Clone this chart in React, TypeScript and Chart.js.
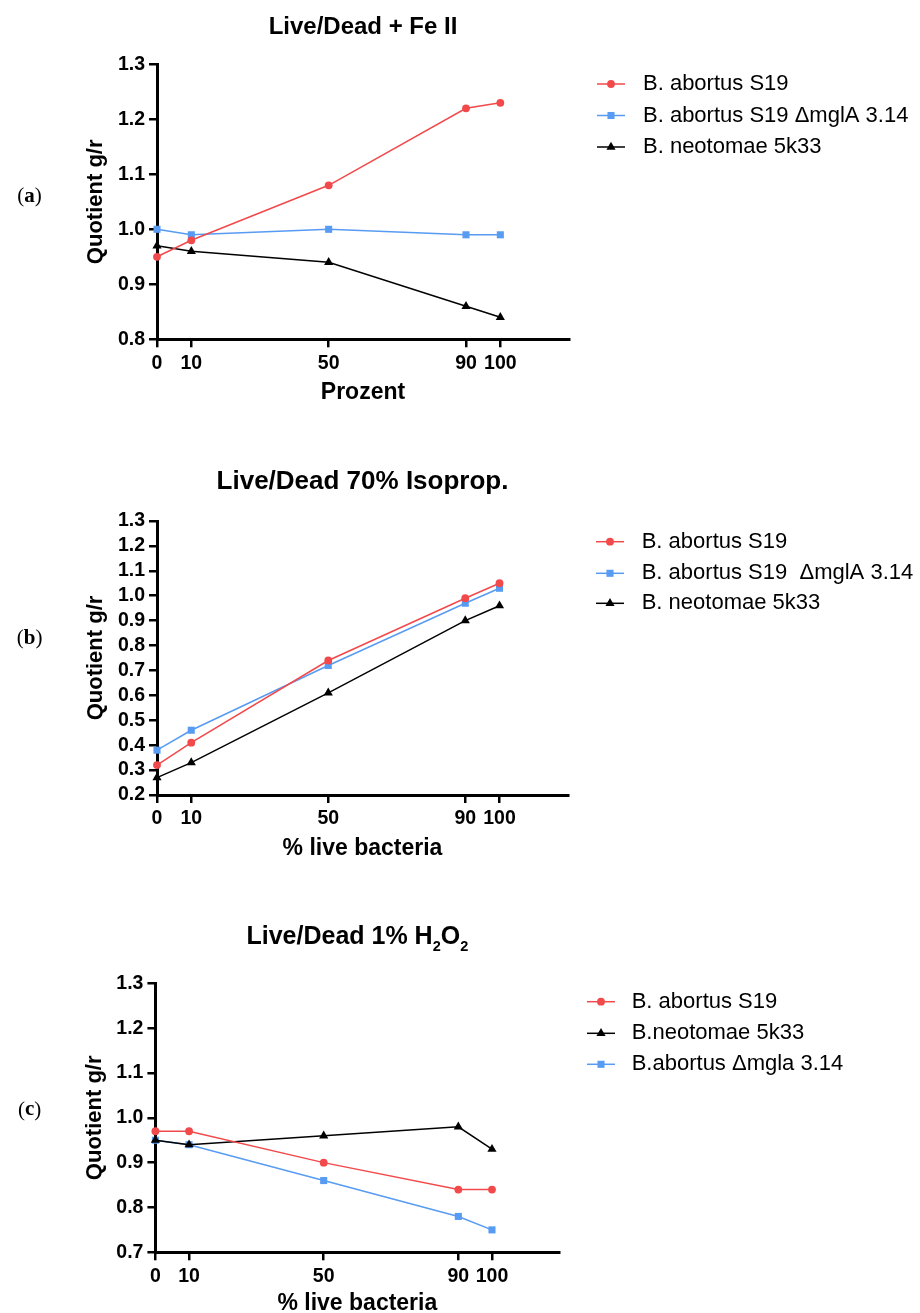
import React, { useEffect, useRef } from 'react';
import { Chart, registerables } from 'chart.js';

Chart.register(...registerables);

// ---------------- data ----------------
const X_PERCENT = [0, 10, 50, 90, 100];
const X_TICKS = [0, 10, 50, 90, 100];

const FE_S19 = [0.95, 0.98, 1.08, 1.22, 1.23];
const FE_MGLA = [1.0, 0.99, 1.0, 0.99, 0.99];
const FE_NEO = [0.97, 0.96, 0.94, 0.86, 0.84];

const ISO_S19 = [0.32, 0.41, 0.74, 0.99, 1.05];
const ISO_MGLA = [0.38, 0.46, 0.72, 0.97, 1.03];
const ISO_NEO = [0.27, 0.33, 0.61, 0.9, 0.96];

const H2O2_S19 = [0.97, 0.97, 0.9, 0.84, 0.84];
const H2O2_NEO = [0.95, 0.94, 0.96, 0.98, 0.93];
const H2O2_MGLA = [0.95, 0.94, 0.86, 0.78, 0.75];

const Y_TICKS_A = [0.8, 0.9, 1.0, 1.1, 1.2, 1.3];
const Y_TICKS_B = [0.2, 0.3, 0.4, 0.5, 0.6, 0.7, 0.8, 0.9, 1.0, 1.1, 1.2, 1.3];
const Y_TICKS_C = [0.7, 0.8, 0.9, 1.0, 1.1, 1.2, 1.3];

const LABELS_A = ['B. abortus S19', 'B. abortus S19 \u0394mglA 3.14', 'B. neotomae 5k33'];
const LABELS_B = ['B. abortus S19', 'B. abortus S19  \u0394mglA 3.14', 'B. neotomae 5k33'];
const LABELS_C = ['B. abortus S19', 'B.neotomae 5k33', 'B.abortus \u0394mgla 3.14'];

// ---------------- styles ----------------
const PAGE_W = 920;
const PAGE_H = 1313;
const SANS = "Arial, 'Liberation Sans', Helvetica, sans-serif";
const SERIF = "'Liberation Serif', 'Times New Roman', serif";
const RED = '#F2494B';
const BLUE = '#579BF2';
const BLACK = '#000000';
const TICK_FONT = 19.5;
const XTITLE_FONT = 23;
const YTITLE_FONT = 22;
const LEGEND_FONT = 22;
const TICK_LEN = 8;

type MarkStyle = 'circle' | 'rect' | 'triangle';
const RADIUS: Record<MarkStyle, number> = { circle: 3.9, rect: 5, triangle: 5.3 };

interface Series {
  label: string;
  values: number[];
  color: string;
  style: MarkStyle;
}

interface TitlePart {
  text: string;
  sub?: boolean;
}

interface Panel {
  letter: string;
  title: TitlePart[];
  titleSize: number;
  titleBaseline: number;
  series: Series[];
  yTicks: number[];
  xTitle: string;
  box: { left: number; right: number; top: number; bottom: number };
  xLabelCenter: number;
  xTitleCenter: number;
  yTitleX: number;
  letterY: number;
  legendRows: number[];
  legendLine: [number, number];
  legendText: number;
}

const PANELS: Panel[] = [
  {
    letter: 'a',
    title: [{ text: 'Live/Dead + Fe II' }],
    titleSize: 24,
    titleBaseline: 34.3,
    series: [
      { label: LABELS_A[0], values: FE_S19, color: RED, style: 'circle' },
      { label: LABELS_A[1], values: FE_MGLA, color: BLUE, style: 'rect' },
      { label: LABELS_A[2], values: FE_NEO, color: BLACK, style: 'triangle' },
    ],
    yTicks: Y_TICKS_A,
    xTitle: 'Prozent',
    box: { left: 157, right: 569, top: 64.3, bottom: 339.3 },
    xLabelCenter: 363.5,
    xTitleCenter: 393,
    yTitleX: 96,
    letterY: 196.7,
    legendRows: [84, 115.5, 147],
    legendLine: [597, 625],
    legendText: 643,
  },
  {
    letter: 'b',
    title: [{ text: 'Live/Dead 70% Isoprop.' }],
    titleSize: 26,
    titleBaseline: 489.3,
    series: [
      { label: LABELS_B[0], values: ISO_S19, color: RED, style: 'circle' },
      { label: LABELS_B[1], values: ISO_MGLA, color: BLUE, style: 'rect' },
      { label: LABELS_B[2], values: ISO_NEO, color: BLACK, style: 'triangle' },
    ],
    yTicks: Y_TICKS_B,
    xTitle: '% live bacteria',
    box: { left: 157, right: 568, top: 521, bottom: 795 },
    xLabelCenter: 819,
    xTitleCenter: 848.5,
    yTitleX: 96,
    letterY: 638.3,
    legendRows: [541.7, 573.3, 603.3],
    legendLine: [596, 624],
    legendText: 641.7,
  },
  {
    letter: 'c',
    title: [{ text: 'Live/Dead 1% H' }, { text: '2', sub: true }, { text: 'O' }, { text: '2', sub: true }],
    titleSize: 25,
    titleBaseline: 944.3,
    series: [
      { label: LABELS_C[0], values: H2O2_S19, color: RED, style: 'circle' },
      { label: LABELS_C[1], values: H2O2_NEO, color: BLACK, style: 'triangle' },
      { label: LABELS_C[2], values: H2O2_MGLA, color: BLUE, style: 'rect' },
    ],
    yTicks: Y_TICKS_C,
    xTitle: '% live bacteria',
    box: { left: 155.4, right: 559.3, top: 983.3, bottom: 1252.3 },
    xLabelCenter: 1277,
    xTitleCenter: 1303.3,
    yTitleX: 95,
    letterY: 1110,
    legendRows: [1001.7, 1033.3, 1064.3],
    legendLine: [587, 615],
    legendText: 631.7,
  },
];

function drawMarker(ctx: CanvasRenderingContext2D, style: MarkStyle, x: number, y: number, color: string) {
  const r = RADIUS[style];
  ctx.fillStyle = color;
  ctx.beginPath();
  if (style === 'circle') {
    ctx.arc(x, y, r, 0, Math.PI * 2);
  } else if (style === 'rect') {
    const s = r * Math.SQRT1_2;
    ctx.rect(x - s, y - s, 2 * s, 2 * s);
  } else {
    let rad = 0;
    ctx.moveTo(x + Math.sin(rad) * r, y - Math.cos(rad) * r);
    rad += (2 * Math.PI) / 3;
    ctx.lineTo(x + Math.sin(rad) * r, y - Math.cos(rad) * r);
    rad += (2 * Math.PI) / 3;
    ctx.lineTo(x + Math.sin(rad) * r, y - Math.cos(rad) * r);
    ctx.closePath();
  }
  ctx.fill();
}

function decorPlugin(p: Panel) {
  return {
    id: 'decor-' + p.letter,
    afterDraw(chart: any) {
      const ctx: CanvasRenderingContext2D = chart.ctx;
      const area = chart.chartArea;
      ctx.save();
      // title
      const parts = p.title.map((t) => {
        const size = t.sub ? p.titleSize * 0.58 : p.titleSize;
        const font = `bold ${size}px ${SANS}`;
        ctx.font = font;
        return { ...t, font, w: ctx.measureText(t.text).width };
      });
      const total = parts.reduce((s, t) => s + t.w, 0);
      let x = (area.left + area.right) / 2 - total / 2;
      ctx.fillStyle = '#000';
      ctx.textAlign = 'left';
      ctx.textBaseline = 'alphabetic';
      parts.forEach((t) => {
        ctx.font = t.font;
        ctx.fillText(t.text, x, p.titleBaseline + (t.sub ? p.titleSize * 0.28 : 0));
        x += t.w;
      });

      // panel letter
      const lsize = 21;
      const pieces = [
        { t: '(', f: `${lsize}px ${SERIF}` },
        { t: p.letter, f: `bold ${lsize}px ${SERIF}` },
        { t: ')', f: `${lsize}px ${SERIF}` },
      ];
      const widths = pieces.map((pc) => {
        ctx.font = pc.f;
        return ctx.measureText(pc.t).width;
      });
      let lx = 29.6 - widths.reduce((a, b) => a + b, 0) / 2;
      ctx.textBaseline = 'middle';
      pieces.forEach((pc, i) => {
        ctx.font = pc.f;
        ctx.fillText(pc.t, lx, p.letterY);
        lx += widths[i];
      });

      // legend
      chart.data.datasets.forEach((ds: any, i: number) => {
        const y = p.legendRows[i];
        const [x0, x1] = p.legendLine;
        ctx.strokeStyle = ds.borderColor;
        ctx.lineWidth = 1.5;
        ctx.beginPath();
        ctx.moveTo(x0, y);
        ctx.lineTo(x1, y);
        ctx.stroke();
        drawMarker(ctx, ds.pointStyle, (x0 + x1) / 2, y, ds.borderColor);
        ctx.fillStyle = '#000';
        ctx.font = `${LEGEND_FONT}px ${SANS}`;
        ctx.textAlign = 'left';
        ctx.textBaseline = 'middle';
        ctx.fillText(ds.label, p.legendText, y);
      });
      ctx.restore();
    },
  };
}

function buildConfig(p: Panel): any {
  const tickPad = p.xLabelCenter - p.box.bottom - TICK_LEN - (TICK_FONT * 1.2) / 2;
  const xTitlePadBottom = PAGE_H - p.xTitleCenter - (XTITLE_FONT * 1.2) / 2;
  const yTitlePadTop = p.yTitleX - (YTITLE_FONT * 1.2) / 2;
  const grid = {
    display: true,
    drawOnChartArea: false,
    drawTicks: true,
    tickLength: TICK_LEN,
    tickWidth: 2.5,
    tickColor: '#000',
    color: '#000',
    lineWidth: 2.5,
  };
  const border = { display: true, color: '#000', width: 3 };
  return {
    type: 'line',
    data: {
      datasets: p.series.map((s) => ({
        label: s.label,
        data: X_PERCENT.map((x, i) => ({ x, y: s.values[i] })),
        borderColor: s.color,
        backgroundColor: s.color,
        pointBackgroundColor: s.color,
        pointBorderColor: s.color,
        pointBorderWidth: 0,
        pointStyle: s.style,
        pointRadius: RADIUS[s.style],
        borderWidth: 1.5,
        tension: 0,
        fill: false,
        clip: false,
      })),
    },
    options: {
      animation: false,
      responsive: false,
      maintainAspectRatio: false,
      events: [],
      layout: { padding: { top: p.box.top, left: 0, right: PAGE_W - p.box.right, bottom: 0 } },
      plugins: {
        legend: { display: false },
        title: { display: false },
        tooltip: { enabled: false },
      },
      scales: {
        x: {
          type: 'linear',
          min: 0,
          max: 120,
          afterBuildTicks: (s: any) => {
            s.ticks = X_TICKS.map((v) => ({ value: v }));
          },
          afterFit: (s: any) => {
            s.height = PAGE_H - p.box.bottom;
          },
          ticks: {
            autoSkip: false,
            maxRotation: 0,
            padding: tickPad,
            color: '#000',
            font: { family: SANS, size: TICK_FONT, weight: 'bold' },
            callback: (v: any) => String(v),
          },
          grid,
          border,
          title: {
            display: true,
            text: p.xTitle,
            color: '#000',
            font: { family: SANS, size: XTITLE_FONT, weight: 'bold' },
            padding: { top: 0, bottom: xTitlePadBottom },
          },
        },
        y: {
          type: 'linear',
          min: p.yTicks[0],
          max: p.yTicks[p.yTicks.length - 1],
          afterBuildTicks: (s: any) => {
            s.ticks = p.yTicks.map((v) => ({ value: v }));
          },
          afterFit: (s: any) => {
            s.width = p.box.left;
          },
          ticks: {
            autoSkip: false,
            padding: 4,
            color: '#000',
            font: { family: SANS, size: TICK_FONT, weight: 'bold' },
            callback: (v: any) => Number(v).toFixed(1),
          },
          grid,
          border,
          title: {
            display: true,
            text: 'Quotient g/r',
            color: '#000',
            font: { family: SANS, size: YTITLE_FONT, weight: 'bold' },
            padding: { top: yTitlePadTop, bottom: 0 },
          },
        },
      },
    },
    plugins: [decorPlugin(p)],
  };
}

function PanelChart({ panel }: { panel: Panel }) {
  const ref = useRef<HTMLCanvasElement>(null);
  useEffect(() => {
    if (!ref.current) return;
    const chart = new Chart(ref.current, buildConfig(panel));
    return () => chart.destroy();
  }, [panel]);
  return (
    <canvas
      ref={ref}
      width={PAGE_W}
      height={PAGE_H}
      style={{ position: 'absolute', left: 0, top: 0, width: PAGE_W, height: PAGE_H }}
    />
  );
}

export default function App() {
  useEffect(() => {
    document.body.style.margin = '0';
  }, []);
  return (
    <div
      style={{
        position: 'absolute',
        left: 0,
        top: 0,
        width: PAGE_W,
        height: PAGE_H,
        overflow: 'hidden',
        background: '#fff',
      }}
    >
      {PANELS.map((p) => (
        <PanelChart key={p.letter} panel={p} />
      ))}
    </div>
  );
}
